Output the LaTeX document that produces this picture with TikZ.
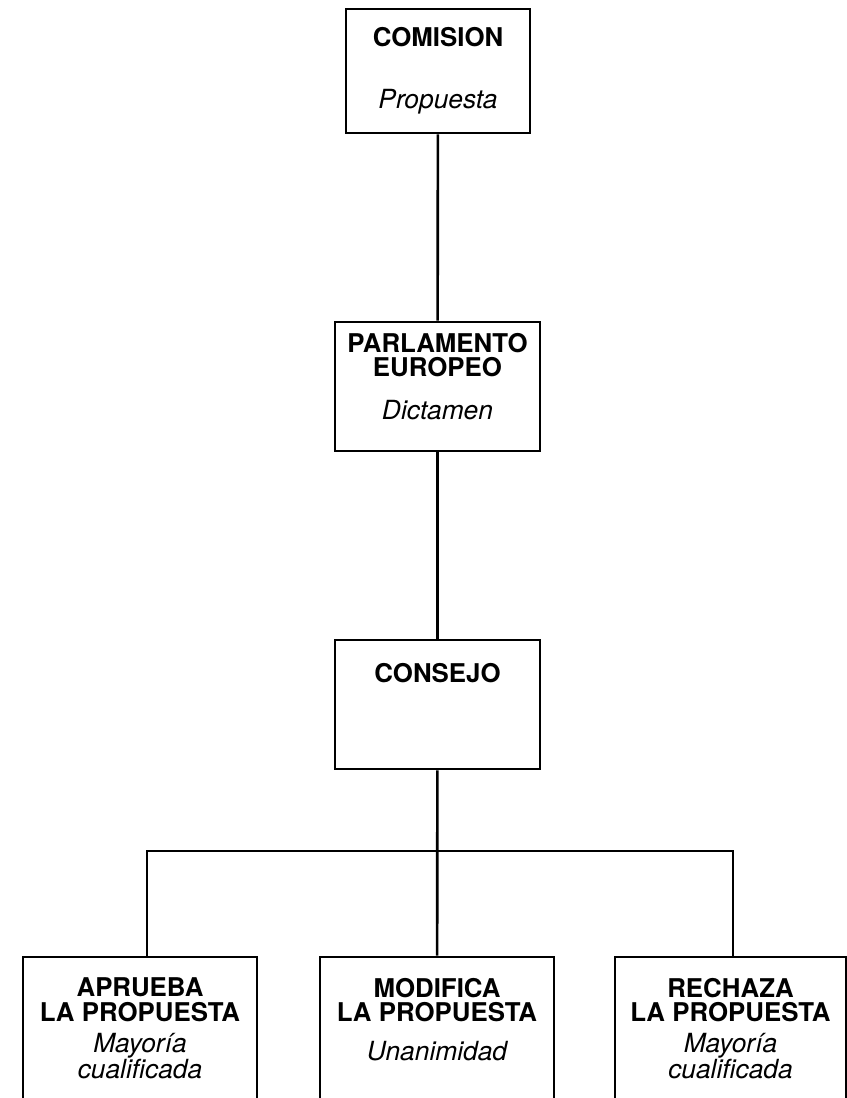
\documentclass[tikz,border=0pt]{standalone}
\usepackage{fontspec}
\setmainfont{TeX Gyre Heros}
\usetikzlibrary{positioning}

\begin{document}
\begin{tikzpicture} [
   x=0.02cm, y=-0.02cm, line width=1.5pt,
   caja/.style={draw, inner sep=0pt},
   titulo/.style={font=\bfseries\fontsize{14.7}{14}\selectfont, align=center, inner sep=0pt},
   nota/.style={font=\itshape\fontsize{15}{14.8}\selectfont, align=center, inner sep=0pt}
]
   \useasboundingbox (0,0) rectangle (847,1098);
   \clip (0,0) rectangle (847,1098);
   % cajas
   \node (comision) [caja, minimum width=3.68cm, minimum height=2.48cm] at (438,71) {};
   \node (parlamento) [caja, minimum width=4.1cm, minimum height=2.58cm] at (437.5,386.5) {};
   \node (consejo) [caja, minimum width=4.1cm, minimum height=2.58cm] at (437.5,704.5) {};
   \node (aprueba) [caja, minimum width=4.68cm, minimum height=3.4cm] at (140,1042) {};
   \node (modifica) [caja, minimum width=4.68cm, minimum height=3.4cm] at (437,1042) {};
   \node (rechaza) [caja, minimum width=4.62cm, minimum height=3.4cm] at (730.5,1042) {};
   % textos
   \node (tcomision) [titulo, below=0.36cm of comision.north] {COMISION};
   \node (ncomision) [nota, below=0.8cm of tcomision] {Propuesta};
   \node (tparlamento) [titulo, below=0.22cm of parlamento.north] {PARLAMENTO\\EUROPEO};
   \node (nparlamento) [nota, below=0.42cm of tparlamento] {Dictamen};
   \node (tconsejo) [titulo, below=0.46cm of consejo.north] {CONSEJO};
   \node (taprueba) [titulo, below=0.42cm of aprueba.north] {APRUEBA\\LA PROPUESTA};
   \node (naprueba) [nota, below=0.18cm of taprueba] {Mayoría\\cualificada};
   \node (tmodifica) [titulo, below=0.42cm of modifica.north] {MODIFICA\\LA PROPUESTA};
   \node (nmodifica) [nota, below=0.34cm of tmodifica] {Unanimidad};
   \node (trechaza) [titulo, below=0.42cm of rechaza.north] {RECHAZA\\LA PROPUESTA};
   \node (nrechaza) [nota, below=0.18cm of trechaza] {Mayoría\\cualificada};
   % conexiones
   \coordinate (ramaA) at (147,851);
   \coordinate (ramaC) at (733,851);
   \draw (comision) -- (parlamento);
   \draw (parlamento) -- (consejo);
   \draw (consejo) -- (modifica);
   \draw (ramaA |- aprueba.north) -- (ramaA) -- (ramaC) -- (ramaC |- rechaza.north);
\end{tikzpicture}
\end{document}
